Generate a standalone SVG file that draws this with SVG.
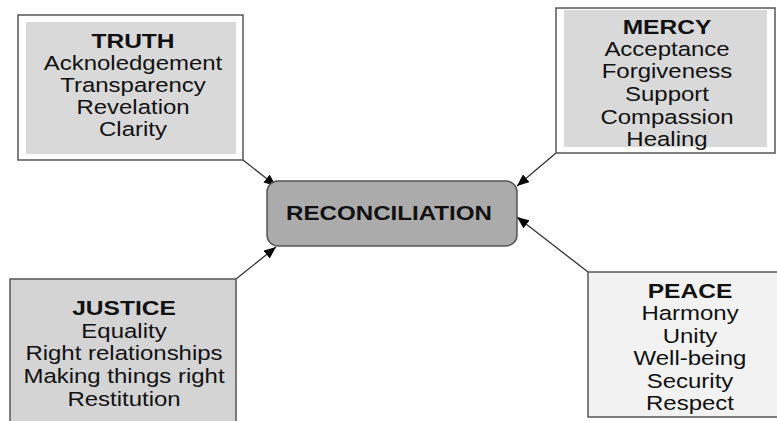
<svg xmlns="http://www.w3.org/2000/svg" width="777" height="421" viewBox="0 0 777 421">
<style>
text{font-family:"Liberation Sans",Arial,sans-serif;font-size:20.5px;fill:#111;text-anchor:middle}
.t{font-weight:bold;font-size:21px}
.box{stroke:#555;stroke-width:1.5}
.conn{stroke:#333;stroke-width:1.3;fill:none;marker-end:url(#ah)}
</style>
<defs>
<marker id="ah" viewBox="0 0 12 10" refX="12" refY="5" markerWidth="12" markerHeight="10" markerUnits="userSpaceOnUse" orient="auto">
<path d="M0,0 L12,5 L0,10 z" fill="#000"/>
</marker>
</defs>
<rect width="777" height="421" fill="#fff"/>
<g id="connectors">
<line class="conn" x1="243" y1="160" x2="276" y2="186"/>
<line class="conn" x1="556" y1="153" x2="517" y2="186"/>
<line class="conn" x1="236" y1="279" x2="276" y2="247"/>
<line class="conn" x1="588" y1="272" x2="517" y2="217"/>
</g>
<g id="truth">
<rect class="box" x="18" y="15" width="225" height="145" fill="#fff"/>
<rect x="26" y="22" width="210" height="132" fill="#d9d9d9"/>
<g transform="translate(133,0) scale(1.17,1)">
<text class="t" x="0" y="48">TRUTH</text>
<text x="0" y="70">Acknoledgement</text>
<text x="0" y="92">Transparency</text>
<text x="0" y="114">Revelation</text>
<text x="0" y="136">Clarity</text>
</g>
</g>
<g id="mercy">
<rect class="box" x="556" y="8" width="219" height="145" fill="#fff"/>
<rect x="564" y="10" width="203" height="137" fill="#d9d9d9"/>
<g transform="translate(667,0) scale(1.17,1)">
<text class="t" x="0" y="34">MERCY</text>
<text x="0" y="56">Acceptance</text>
<text x="0" y="78">Forgiveness</text>
<text x="0" y="101">Support</text>
<text x="0" y="124">Compassion</text>
<text x="0" y="146">Healing</text>
</g>
</g>
<g id="reconciliation">
<rect class="box" x="267" y="181" width="250" height="65" rx="11" fill="#ababab"/>
<g transform="translate(389,0) scale(1.15,1)">
<text class="t" x="0" y="220">RECONCILIATION</text>
</g>
</g>
<g id="justice">
<rect class="box" x="10" y="279" width="226" height="150" fill="#d4d4d4"/>
<g transform="translate(124,0) scale(1.17,1)">
<text class="t" x="0" y="315">JUSTICE</text>
<text x="0" y="338">Equality</text>
<text x="0" y="360">Right relationships</text>
<text x="0" y="383">Making things right</text>
<text x="0" y="406">Restitution</text>
</g>
</g>
<g id="peace">
<rect class="box" x="588" y="272" width="190" height="145" fill="#f2f2f2"/>
<g transform="translate(690,0) scale(1.17,1)">
<text class="t" x="0" y="298">PEACE</text>
<text x="0" y="320">Harmony</text>
<text x="0" y="343">Unity</text>
<text x="0" y="365">Well-being</text>
<text x="0" y="388">Security</text>
<text x="0" y="410">Respect</text>
</g>
</g>
</svg>
